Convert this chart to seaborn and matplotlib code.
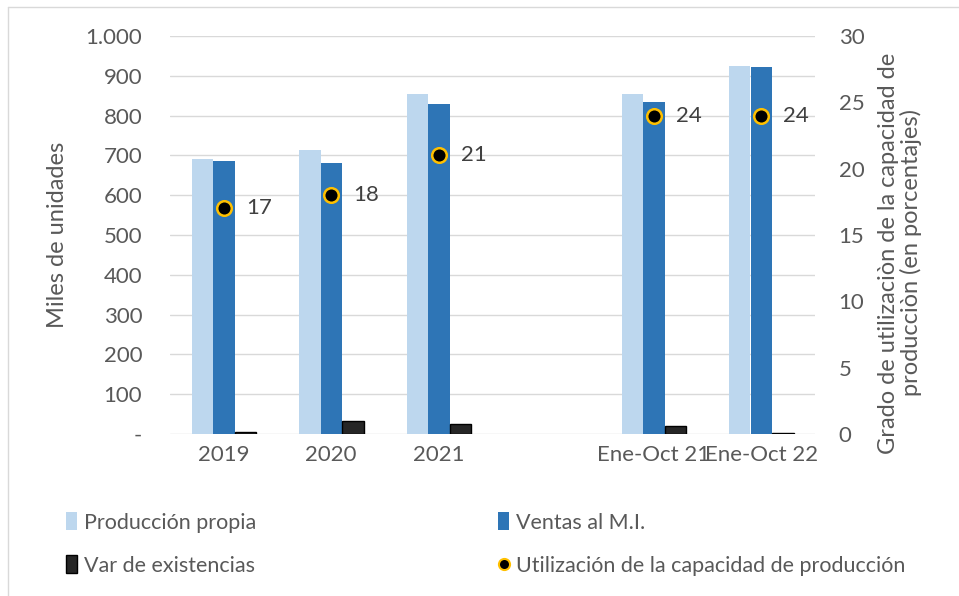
import numpy as np
import pandas as pd
import matplotlib
matplotlib.use("Agg")
import matplotlib.pyplot as plt
from matplotlib.patches import Patch
from matplotlib.lines import Line2D
from matplotlib.ticker import FuncFormatter, MultipleLocator
import seaborn as sns

# datos (miles de unidades / porcentaje)
periodos = ["2019", "2020", "2021", "Ene-Oct 21", "Ene-Oct 22"]
orden = ["2019", "2020", "2021", "", "Ene-Oct 21", "Ene-Oct 22"]
produccion = [690, 713, 854, 854, 925]
ventas = [687, 680, 830, 833, 923]
var_exist = [4, 33, 24, 20, 2]
utilizacion = [17, 18, 21, 24, 24]

series = ["Producción propia", "Ventas al M.I.", "Var de existencias"]
colores = ["#BDD7EE", "#2E75B6", "#262626"]
col_punto = "#FFC000"
gris = "#595959"

df = pd.DataFrame({
    "periodo": periodos * 3,
    "serie": np.repeat(series, len(periodos)),
    "valor": produccion + ventas + var_exist,
})

sns.set_style("white")
plt.rcParams["font.family"] = ["Lato", "DejaVu Sans"]

fig = plt.figure(figsize=(9.59, 5.96), dpi=100)
ax = fig.add_axes([170 / 959, 1 - 434 / 596, 645 / 959, 398 / 596])

sns.barplot(data=df, x="periodo", y="valor", hue="serie", order=orden,
            hue_order=series, palette=colores, width=0.6, errorbar=None,
            saturation=1, ax=ax, legend=False)
for cont, ec in zip(ax.containers, ["none", "none", "black"]):
    for p in cont:
        p.set_edgecolor(ec)
        p.set_linewidth(1)

ax.set_ylim(0, 1000)
ax.yaxis.set_major_locator(MultipleLocator(100))
ax.yaxis.set_major_formatter(FuncFormatter(
    lambda v, _: "-" if v == 0 else f"{v:,.0f}".replace(",", ".")))
ax.grid(axis="y", color="#D9D9D9", lw=1)
ax.set_axisbelow(True)
sns.despine(ax=ax, left=True, bottom=True)
ax.tick_params(axis="y", length=0, pad=20, labelsize=16, labelcolor=gris)
ax.tick_params(axis="x", length=0, pad=8, labelsize=16, labelcolor=gris)
ax.set_xlabel("")
ax.set_ylabel("Miles de unidades", fontsize=17, color=gris)
ax.yaxis.set_label_coords(-0.158, 0.5)

# eje secundario: utilización
ax2 = ax.twinx()
xpos = [orden.index(p) for p in periodos]
sns.scatterplot(x=xpos, y=utilizacion, ax=ax2, color="black", s=110,
                edgecolor=col_punto, linewidth=1.8, zorder=3, legend=False)
for x, v in zip(xpos, utilizacion):
    ax2.annotate(f"{v}", (x, v), xytext=(16, 0), textcoords="offset points",
                 va="center", ha="left", fontsize=16, color="#404040")
ax2.set_ylim(0, 30)
ax2.yaxis.set_major_locator(MultipleLocator(5))
ax2.grid(False)
sns.despine(ax=ax2, left=True, bottom=True, right=True)
ax2.tick_params(axis="y", length=0, pad=17, labelsize=16, labelcolor=gris)
ax2.set_ylabel("Grado de utilizaciòn de la capacidad de\nproducciòn (en porcentajes)",
               fontsize=17, color=gris, linespacing=1.05)
ax2.yaxis.set_label_coords(1.098, 0.455)
ax.set_xlim(-0.5, len(orden) - 0.5)

# leyenda
h = [Patch(facecolor=c, edgecolor=("black" if i == 2 else "none")) for i, c in enumerate(colores)]
h_pt = Line2D([], [], ls="none", marker="o", markersize=8, markerfacecolor="black",
              markeredgecolor=col_punto, markeredgewidth=1.5)
kw = dict(frameon=False, fontsize=15.5, handlelength=0.5, handleheight=0.9,
          handletextpad=0.3, labelspacing=1.05, labelcolor=gris, loc="upper left")
fig.legend([h[0], h[2]], [series[0], series[2]], bbox_to_anchor=(47 / 959, 1 - 493 / 596), **kw)
fig.legend([h[1], h_pt], [series[1], "Utilización de la capacidad de producción"],
           bbox_to_anchor=(479 / 959, 1 - 493 / 596), **kw)

# borde del gráfico
fig.add_artist(Line2D([8 / 959, 8 / 959], [0, 1 - 7 / 596], color="#D9D9D9", lw=1))
fig.add_artist(Line2D([8 / 959, 1], [1 - 7 / 596, 1 - 7 / 596], color="#D9D9D9", lw=1))

fig.savefig("out.png", dpi=100)
